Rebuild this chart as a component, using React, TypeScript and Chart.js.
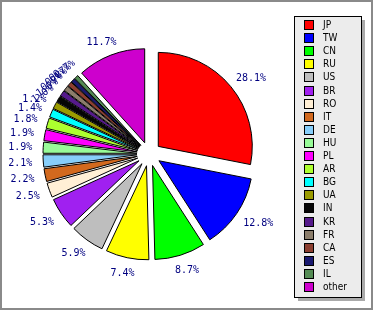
import React, { useEffect, useRef } from "react";
import { Chart, registerables } from "chart.js";

Chart.register(...registerables);

const categories = ["JP", "TW", "CN", "RU", "US", "BR", "RO", "IT", "DE", "HU", "PL", "AR", "BG", "UA", "IN", "KR", "FR", "CA", "ES", "IL", "other"];
const shares = [28.1, 12.8, 8.7, 7.4, 5.9, 5.3, 2.5, 2.2, 2.1, 1.9, 1.9, 1.8, 1.4, 1.2, 1.0, 1.0, 0.9, 0.8, 0.7, 0.7, 11.7];
const sliceColors = ["#ff0000", "#0000ff", "#00ff00", "#ffff00", "#bebebe", "#a020f0", "#ffefd5", "#d2691e", "#87cefa", "#98fb98", "#ff00ff", "#adff2f", "#00ffff", "#9b9b00", "#050505", "#551a8b", "#8b7d6b", "#8b3e2f", "#191970", "#548b54", "#cd00cd"];

const EXPLODE = 12;
const LABEL_R = 117;

const explodePlugin = {
  id: "explode",
  beforeDatasetDraw(chart: any, args: any) {
    const ctx = chart.ctx;
    args.meta.data.forEach((arc: any) => {
      const half = (arc.startAngle + arc.endAngle) / 2;
      ctx.save();
      ctx.translate(Math.cos(half) * EXPLODE, Math.sin(half) * EXPLODE);
      arc.draw(ctx);
      ctx.restore();
    });
    return false;
  },
};

const decorPlugin = {
  id: "decor",
  afterDraw(chart: any) {
    const ctx = chart.ctx;
    const meta = chart.getDatasetMeta(0);
    const data = chart.data.datasets[0].data as number[];
    const total = data.reduce((a: number, b: number) => a + b, 0);
    ctx.save();
    // percentage labels
    ctx.font = "10px 'DejaVu Sans Mono', monospace";
    ctx.fillStyle = "#000080";
    ctx.textAlign = "center";
    ctx.textBaseline = "middle";
    meta.data.forEach((arc: any, i: number) => {
      const a = (arc.startAngle + arc.endAngle) / 2;
      const txt = ((data[i] / total) * 100).toFixed(1) + "%";
      const w = ctx.measureText(txt).width;
      const px = arc.x + Math.cos(a) * LABEL_R;
      const py = arc.y + Math.sin(a) * LABEL_R;
      const tx = px + (Math.cos(a) * w) / 2;
      const ty = py + Math.sin(a) * 4 + 1;
      const frac = data[i] / total;
      const small = frac < 0.0105 && i < data.length - 1;
      if (small) {
        ctx.save();
        ctx.translate(tx + 4, ty + 2);
        ctx.rotate(-0.6);
        ctx.fillText(txt, 0, 0);
        ctx.restore();
      } else {
        ctx.fillText(txt, tx, ty);
      }
    });
    // legend
    const lx = 294, ly = 16, lw = 67, lh = 281;
    ctx.fillStyle = "#aaaaaa";
    ctx.fillRect(lx + 4, ly + 4, lw, lh);
    ctx.fillStyle = "#ececec";
    ctx.fillRect(lx, ly, lw, lh);
    ctx.strokeStyle = "#000000";
    ctx.lineWidth = 1;
    ctx.strokeRect(lx + 0.5, ly + 0.5, lw, lh);
    ctx.font = "10px 'Liberation Sans Narrow', 'DejaVu Sans Condensed', sans-serif";
    ctx.textAlign = "left";
    ctx.textBaseline = "middle";
    const cols = chart.data.datasets[0].backgroundColor as string[];
    (chart.data.labels as string[]).forEach((lab: string, i: number) => {
      const cy = 25 + i * 13.1;
      const y0 = Math.round(cy - 5);
      ctx.fillStyle = cols[i];
      ctx.fillRect(304, y0, 10, 10);
      ctx.strokeStyle = "#000000";
      ctx.strokeRect(304.5, y0 + 0.5, 9, 9);
      ctx.fillStyle = "#000000";
      ctx.fillText(lab, 323, cy + 0.5);
    });
    // frame
    ctx.strokeStyle = "#8a8a8a";
    ctx.lineWidth = 2;
    ctx.strokeRect(1, 1, 371, 308);
    ctx.restore();
  },
};

export default function App() {
  const ref = useRef<HTMLCanvasElement>(null);
  useEffect(() => {
    if (!ref.current) return;
    const chart = new Chart(ref.current, {
      type: "pie",
      data: {
        labels: categories,
        datasets: [
          {
            data: shares,
            backgroundColor: sliceColors,
            borderColor: "#000000",
            borderWidth: 1,
            radius: 94,
          } as any,
        ],
      },
      options: {
        responsive: false,
        animation: false,
        layout: { padding: { left: 0, right: 75, top: 4, bottom: 7 } },
        plugins: { legend: { display: false }, tooltip: { enabled: false } },
      },
      plugins: [explodePlugin, decorPlugin],
    });
    return () => chart.destroy();
  }, []);
  return (
    <div style={{ position: "absolute", left: 0, top: 0, width: 373, height: 311, background: "#fff" }}>
      <canvas ref={ref} width={373} height={311} />
    </div>
  );
}
